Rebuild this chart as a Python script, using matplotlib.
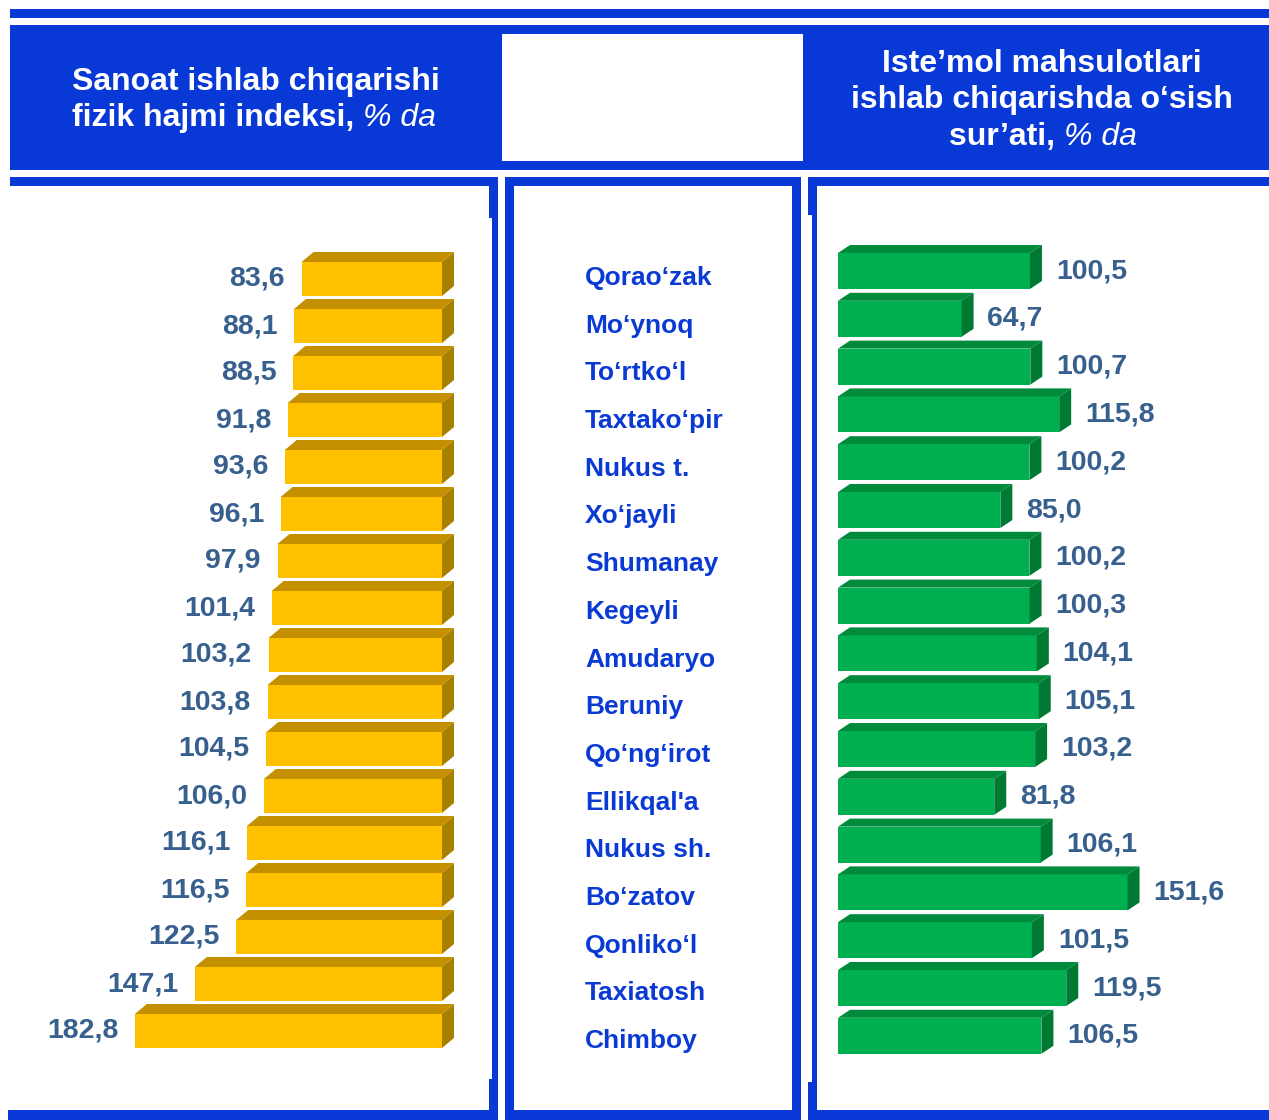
import matplotlib.pyplot as plt
from matplotlib.patches import Rectangle, Polygon

W, H = 1269, 1120

BLUE = "#0839D6"
VALUE_COLOR = "#37608F"
NAME_COLOR = "#0A3AD4"
YELLOW = ("#FFC000", "#C49000", "#A88000")   # front, top, side
GREEN = ("#00B050", "#008A3C", "#007A33")

# left chart: sorted index values (% da)
industry_values = [83.6, 88.1, 88.5, 91.8, 93.6, 96.1, 97.9, 101.4, 103.2,
                   103.8, 104.5, 106.0, 116.1, 116.5, 122.5, 147.1, 182.8]

# middle: district names
districts = ["Qorao‘zak", "Mo‘ynoq", "To‘rtko‘l", "Taxtako‘pir", "Nukus t.",
             "Xo‘jayli", "Shumanay", "Kegeyli", "Amudaryo", "Beruniy",
             "Qo‘ng‘irot", "Ellikqal'a", "Nukus sh.", "Bo‘zatov", "Qonliko‘l",
             "Taxiatosh", "Chimboy"]

# right chart: consumer goods growth (% da)
consumer_values = [100.5, 64.7, 100.7, 115.8, 100.2, 85.0, 100.2, 100.3, 104.1,
                   105.1, 103.2, 81.8, 106.1, 151.6, 101.5, 119.5, 106.5]

plt.rcParams["font.family"] = ["Liberation Sans", "DejaVu Sans"]


def fmt(v):
    return f"{v:.1f}".replace(".", ",")


def px_axes(fig, x0, y0, x1, y1):
    return fig.add_axes([x0 / W, 1 - y1 / H, (x1 - x0) / W, (y1 - y0) / H])


def bar3d(ax, i, v, height, dx, dy, colors):
    # front face spans 0..v; dx/dy give the depth offset of top and side faces
    front, top_c, side_c = colors
    top = i - height / 2
    bottom = i + height / 2
    end = v if dx > 0 else 0
    ax.add_patch(Rectangle((0, top), v, height, facecolor=front, edgecolor="none"))
    ax.add_patch(Polygon([(0, top), (v, top), (v + dx, top - dy), (dx, top - dy)],
                         closed=True, facecolor=top_c, edgecolor="none"))
    ax.add_patch(Polygon([(end, top), (end, bottom), (end + dx, bottom - dy), (end + dx, top - dy)],
                         closed=True, facecolor=side_c, edgecolor="none"))


fig = plt.figure(figsize=(W / 100, H / 100), dpi=100)

# background frames in pixel coordinates
bg = fig.add_axes([0, 0, 1, 1])
bg.set_xlim(0, W)
bg.set_ylim(H, 0)
bg.axis("off")
frames = [
    (10, 9, 1259, 9),        # top thin line
    (10, 25, 1259, 145),     # header band
    (10, 177, 488, 9),       # left panel
    (489, 177, 9, 41),
    (492, 177, 6, 943),
    (8, 1110, 490, 10),
    (489, 1079, 9, 31),
    (505, 177, 296, 9),      # middle panel
    (505, 177, 9, 943),
    (792, 177, 9, 943),
    (505, 1110, 296, 10),
    (808, 177, 461, 9),      # right panel
    (808, 177, 9, 38),
    (812, 177, 5, 943),
    (808, 1082, 9, 38),
    (808, 1110, 461, 10),
]
for x, y, w, h in frames:
    bg.add_patch(Rectangle((x, y), w, h, facecolor=BLUE, edgecolor="none"))
bg.add_patch(Rectangle((502, 34), 301, 127, facecolor="white", edgecolor="none"))

# header texts
hdr = dict(color="white", fontsize=23, fontweight="bold")
bg.text(72, 82, "Sanoat ishlab chiqarishi", ha="left", va="center", **hdr)
t = bg.text(72, 118, "fizik hajmi indeksi, ", ha="left", va="center", **hdr)
bg.annotate("% da", xy=(1, 0), xycoords=t, ha="left", va="bottom",
            color="white", fontsize=23, fontstyle="italic")

bg.text(1042, 64, "Iste’mol mahsulotlari", ha="center", va="center", **hdr)
bg.text(1042, 100, "ishlab chiqarishda o‘sish", ha="center", va="center", **hdr)
t = bg.text(949, 137, "sur’ati, ", ha="left", va="center", **hdr)
bg.annotate("% da", xy=(1, 0), xycoords=t, ha="left", va="bottom",
            color="white", fontsize=23, fontstyle="italic")

# district names
for i, name in enumerate(districts):
    bg.text(585, 278 + 47.7 * i, name, ha="left", va="center",
            color=NAME_COLOR, fontsize=19, fontweight="bold")

# left chart (bars grow leftwards, depth to the right)
scale_l = 1.68
ax_l = px_axes(fig, 20, 230, 480, 1070)
ax_l.set_xlim((442 - 20) / scale_l, (442 - 480) / scale_l)
ax_l.set_ylim((1070 - 279) / 47, (230 - 279) / 47)
ax_l.axis("off")
dx_l, dy_l = -12 / scale_l, 10 / 47
for i, v in enumerate(industry_values):
    bar3d(ax_l, i, v, 34 / 47, dx_l, dy_l, YELLOW)
    ax_l.annotate(fmt(v), xy=(v, i), xytext=(-12, 0), textcoords="offset points",
                  ha="right", va="center", color=VALUE_COLOR,
                  fontsize=20.5, fontweight="bold")

# right chart
scale_r = 1.91
ax_r = px_axes(fig, 820, 225, 1269, 1075)
ax_r.set_xlim((820 - 838) / scale_r, (1269 - 838) / scale_r)
ax_r.set_ylim((1075 - 271) / 47.8, (225 - 271) / 47.8)
ax_r.axis("off")
dx_r, dy_r = 12 / scale_r, 8 / 47.8
for i, v in enumerate(consumer_values):
    bar3d(ax_r, i, v, 36 / 47.8, dx_r, dy_r, GREEN)
    ax_r.annotate(fmt(v), xy=(v + dx_r, i), xytext=(10, 0), textcoords="offset points",
                  ha="left", va="center", color=VALUE_COLOR,
                  fontsize=20.5, fontweight="bold", annotation_clip=False)

fig.savefig("out.png", dpi=100)
